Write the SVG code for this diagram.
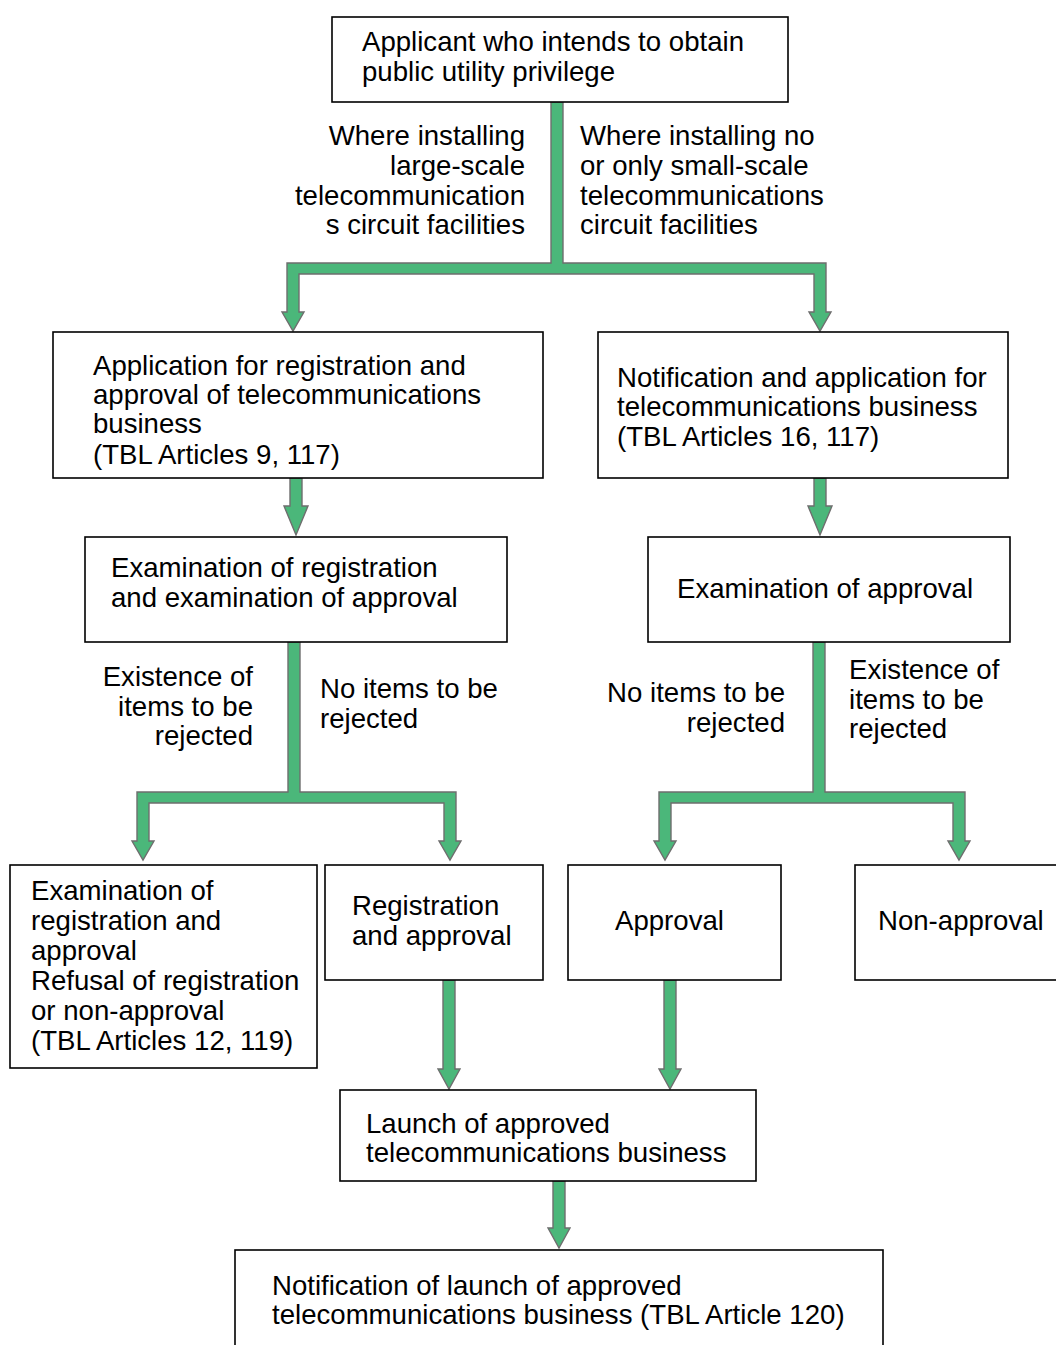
<svg xmlns="http://www.w3.org/2000/svg" width="1056" height="1345" viewBox="0 0 1056 1345">
<style>
.box{fill:#fff;stroke:#000;stroke-width:1.6}
.arr{fill:#4bb77a;stroke:#6e6e6e;stroke-width:1.4;stroke-linejoin:miter}
text{font-family:"Liberation Sans",Arial,sans-serif;font-size:27.6px;fill:#000}
.r{text-anchor:end}
</style>
<rect width="1056" height="1345" fill="#fff"/>
<g id="connectors">
<polygon class="arr" points="551,102 563,102 563,263 826,263 826,312 831,312 820,331 809,312 814,312 814,274 299,274 299,312 304,312 293,331 282,312 287,312 287,263 551,263"/>
<polygon class="arr" points="290,478 302,478 302,506 308,506 296,535 284,506 290,506"/>
<polygon class="arr" points="814,478 826,478 826,506 832,506 820,535 808,506 814,506"/>
<polygon class="arr" points="288,642 300,642 300,792 456,792 456,841 461,841 450,860 439,841 444,841 444,803 149,803 149,841 154,841 143,860 132,841 137,841 137,792 288,792"/>
<polygon class="arr" points="813,642 825,642 825,792 965,792 965,841 970,841 959,860 948,841 953,841 953,803 671,803 671,841 676,841 665,860 654,841 659,841 659,792 813,792"/>
<polygon class="arr" points="443,980 455,980 455,1069 460,1069 449,1089 438,1069 443,1069"/>
<polygon class="arr" points="664,980 676,980 676,1069 681,1069 670,1089 659,1069 664,1069"/>
<polygon class="arr" points="553,1181 565,1181 565,1228 570,1228 559,1248 548,1228 553,1228"/>
</g>
<g id="n-applicant"><rect class="box" x="332" y="17" width="456" height="85"/>
<text x="362" y="51">Applicant who intends to obtain</text><text x="362" y="81">public utility privilege</text></g>
<g id="l-large"><text class="r" x="525" y="145">Where installing</text><text class="r" x="525" y="175">large-scale</text><text class="r" x="525" y="205">telecommunication</text><text class="r" x="525" y="234">s circuit facilities</text></g>
<g id="l-small"><text x="580" y="145">Where installing no</text><text x="580" y="175">or only small-scale</text><text x="580" y="205">telecommunications</text><text x="580" y="234">circuit facilities</text></g>
<g id="n-application"><rect class="box" x="53" y="332" width="490" height="146"/>
<text x="93" y="375">Application for registration and</text><text x="93" y="404">approval of telecommunications</text><text x="93" y="433">business</text><text x="93" y="464">(TBL Articles 9, 117)</text></g>
<g id="n-notification"><rect class="box" x="598" y="332" width="410" height="146"/>
<text x="617" y="387">Notification and application for</text><text x="617" y="416">telecommunications business</text><text x="617" y="446">(TBL Articles 16, 117)</text></g>
<g id="n-exam-reg"><rect class="box" x="85" y="537" width="422" height="105"/>
<text x="111" y="577">Examination of registration</text><text x="111" y="607">and examination of approval</text></g>
<g id="n-exam-appr"><rect class="box" x="648" y="537" width="362" height="105"/>
<text x="677" y="598">Examination of approval</text></g>
<g id="l-exist1"><text class="r" x="253" y="686">Existence of</text><text class="r" x="253" y="716">items to be</text><text class="r" x="253" y="745">rejected</text></g>
<g id="l-no1"><text x="320" y="698">No items to be</text><text x="320" y="728">rejected</text></g>
<g id="l-no2"><text class="r" x="785" y="702">No items to be</text><text class="r" x="785" y="732">rejected</text></g>
<g id="l-exist2"><text x="849" y="679">Existence of</text><text x="849" y="709">items to be</text><text x="849" y="738">rejected</text></g>
<g id="n-refusal"><rect class="box" x="10" y="865" width="307" height="203"/>
<text x="31" y="900">Examination of</text><text x="31" y="930">registration and</text><text x="31" y="960">approval</text><text x="31" y="990">Refusal of registration</text><text x="31" y="1020">or non-approval</text><text x="31" y="1050">(TBL Articles 12, 119)</text></g>
<g id="n-registration"><rect class="box" x="325" y="865" width="218" height="115"/>
<text x="352" y="915">Registration</text><text x="352" y="945">and approval</text></g>
<g id="n-approval"><rect class="box" x="568" y="865" width="213" height="115"/>
<text x="615" y="930">Approval</text></g>
<g id="n-nonapproval"><rect class="box" x="855" y="865" width="210" height="115"/>
<text x="878" y="930">Non-approval</text></g>
<g id="n-launch"><rect class="box" x="340" y="1090" width="416" height="91"/>
<text x="366" y="1133">Launch of approved</text><text x="366" y="1162">telecommunications business</text></g>
<g id="n-notify-launch"><rect class="box" x="235" y="1250" width="648" height="110"/>
<text x="272" y="1295">Notification of launch of approved</text><text x="272" y="1324">telecommunications business (TBL Article 120)</text></g>
</svg>
